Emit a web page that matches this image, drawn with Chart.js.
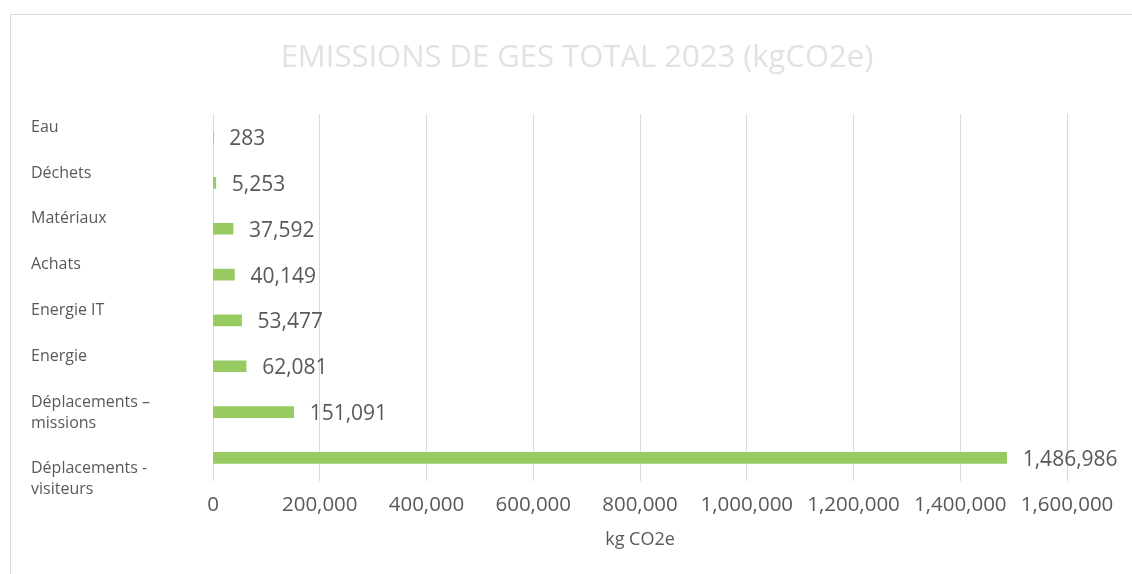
<!DOCTYPE html>
<html>
<head>
<meta charset="utf-8">
<script src="https://cdn.jsdelivr.net/npm/chart.js@4.4.1/dist/chart.umd.min.js"></script>
<style>
  html, body { margin: 0; padding: 0; background: #fff; overflow: hidden; }
  #frame {
    position: absolute; left: 10px; top: 14px;
    width: 1140px; height: 600px;
    border: 1px solid #d9d9d9;
  }
  #ghg { display: block; }
</style>
</head>
<body>
<div id="frame">
  <canvas id="ghg" width="1132" height="559"></canvas>
</div>
<script>
  // chart data
  const categories = [
    'Eau',
    'Déchets',
    'Matériaux',
    'Achats',
    'Energie IT',
    'Energie',
    ['Déplacements –', 'missions'],
    ['Déplacements -', 'visiteurs']
  ];
  const emissions = [283, 5253, 37592, 40149, 53477, 62081, 151091, 1486986];
  const xTicks = [0, 200000, 400000, 600000, 800000, 1000000, 1200000, 1400000, 1600000];

  const chartTitle = 'EMISSIONS DE GES TOTAL 2023 (kgCO2e)';
  const xTitle = 'kg CO2e';

  (() => {
    'use strict'

    const fmt = v => Number(v).toLocaleString('en-US');
    const textGrey = '#595959';
    const family = "'Open Sans', 'DejaVu Sans', sans-serif";

    // the two long labels sit lower than the short ones in the original
    const leadLines = { 6: 1, 7: 3 };

    // value labels to the right of each bar
    const valueLabels = {
      id: 'valueLabels',
      afterDatasetsDraw(chart) {
        const ctx = chart.ctx;
        const meta = chart.getDatasetMeta(0);
        ctx.save();
        ctx.font = '21px ' + family;
        ctx.fillStyle = textGrey;
        ctx.textAlign = 'left';
        ctx.textBaseline = 'middle';
        meta.data.forEach((bar, i) => {
          ctx.fillText(fmt(chart.data.datasets[0].data[i]), bar.x + 16, bar.y + 2);
        });
        ctx.restore();
      }
    };

    const ctx = document.getElementById('ghg');
    // eslint-disable-next-line no-unused-vars
    const ghgChart = new Chart(ctx, {
      type: 'bar',
      data: {
        labels: categories,
        datasets: [{
          data: emissions,
          backgroundColor: '#98ca62',
          borderWidth: 0,
          barThickness: 11
        }]
      },
      options: {
        indexAxis: 'y',
        responsive: false,
        animation: false,
        layout: {
          padding: { left: 20, right: 20, top: 0, bottom: 19 }
        },
        plugins: {
          legend: { display: false },
          tooltip: { enabled: false },
          title: {
            display: true,
            text: chartTitle,
            color: '#e2e2e2',
            font: { family: family, size: 31, weight: 'normal', lineHeight: 1.2 },
            padding: { top: 25, bottom: 37 }
          }
        },
        scales: {
          x: {
            min: 0,
            max: 1600000,
            afterBuildTicks: axis => {
              axis.ticks = xTicks.map(v => ({ value: v }));
            },
            grid: { color: '#d9d9d9', drawTicks: false },
            border: { display: false },
            ticks: {
              color: textGrey,
              padding: 12,
              font: { family: family, size: 20.5, lineHeight: 1.2 },
              callback: v => fmt(v)
            },
            title: {
              display: true,
              text: xTitle,
              color: textGrey,
              font: { family: family, size: 18, lineHeight: 1.2 },
              padding: { top: 0, bottom: 4 }
            }
          },
          y: {
            grid: { display: false },
            border: { display: false },
            afterFit: axis => { axis.width = 182; },
            ticks: {
              color: textGrey,
              autoSkip: false,
              crossAlign: 'far',
              labelOffset: -10,
              font: { family: family, size: 16, lineHeight: 21 / 16 },
              callback: (v, i) => {
                const lbl = categories[i];
                const lines = Array.isArray(lbl) ? lbl : [lbl];
                return Array(leadLines[i] || 0).fill('').concat(lines);
              }
            }
          },
          // empty right-hand strip so the plot ends where the original does
          // while the title stays centred on the whole frame
          yRight: {
            position: 'right',
            grid: { display: false },
            border: { display: false },
            ticks: { display: false },
            afterFit: axis => { axis.width = 56; }
          }
        }
      },
      plugins: [valueLabels]
    })
  })()
</script>
</body>
</html>
